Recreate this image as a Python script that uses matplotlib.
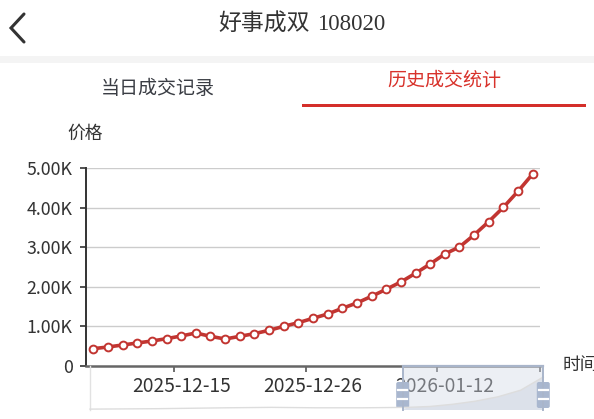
import matplotlib
matplotlib.use("Agg")
import matplotlib.pyplot as plt
from matplotlib.patches import Rectangle, FancyBboxPatch, Polygon

plt.rcParams['font.family'] = ['Noto Sans CJK SC', 'DejaVu Sans']

# chart data (trading days)
dates = ["2025-12-05", "2025-12-08", "2025-12-09", "2025-12-10", "2025-12-11",
         "2025-12-12", "2025-12-15", "2025-12-16", "2025-12-17", "2025-12-18",
         "2025-12-19", "2025-12-22", "2025-12-23", "2025-12-24", "2025-12-25",
         "2025-12-26", "2025-12-29", "2025-12-30", "2025-12-31", "2026-01-05",
         "2026-01-06", "2026-01-07", "2026-01-08", "2026-01-09", "2026-01-12",
         "2026-01-13", "2026-01-14", "2026-01-15", "2026-01-16", "2026-01-19",
         "2026-01-20"]
prices = [438, 481, 531, 582, 632, 691, 759, 835, 750, 683,
          750, 818, 902, 1003, 1096, 1206, 1315, 1459, 1594, 1763,
          1940, 2125, 2345, 2580, 2833, 3010, 3314, 3651, 4014, 4419,
          4857]
y_ticks = [0, 1000, 2000, 3000, 4000, 5000]
y_labels = ["0", "1.00K", "2.00K", "3.00K", "4.00K", "5.00K"]
shown_dates = ["2025-12-15", "2025-12-26", "2026-01-12"]
# faint data shadow in the zoom slider (fraction of slider height)
shadow_x = [0.0, 0.15, 0.3, 0.4, 0.5, 0.6, 0.7, 0.75, 0.8, 0.85, 0.9, 0.95, 1.0]
shadow_y = [0.02, 0.03, 0.05, 0.06, 0.05, 0.05, 0.06, 0.08, 0.13, 0.2, 0.3, 0.45, 0.75]

W, H = 594, 419
RED = '#c23531'
fig = plt.figure(figsize=(W / 100, H / 100), dpi=100)

# main plot area (pixel box: x 86..540, y 168..366)
ax = fig.add_axes([86 / W, (H - 366) / H, (540 - 86) / W, (366 - 168.3) / H])
ax.set_zorder(1)
xs = list(range(len(prices)))
ax.plot(xs, prices, color=RED, lw=2.6, marker='o', ms=5.6, mfc='white',
        mec=RED, mew=1.4, zorder=3, clip_on=False)
ax.set_xlim(-0.5, len(prices) - 0.5)
ax.set_ylim(0, 5000)
ax.set_yticks(y_ticks)
ax.set_yticklabels(y_labels)
for v in y_ticks[1:]:
    ax.axhline(v, color='#cccccc', lw=1, zorder=1)

idx = [dates.index(d) for d in shown_dates]
ax.set_xticks(idx)
ax.set_xticklabels(shown_dates)
ax.set_xticks([i - 0.5 for i in idx] + [len(prices) - 0.5], minor=True)
ax.tick_params(axis='x', which='major', length=0, pad=7.5, labelsize=13.8, labelcolor='#333333')
ax.tick_params(axis='x', which='minor', length=4, width=1.2, color='#555555')
ax.tick_params(axis='y', length=4.5, width=1.2, color='#333333', pad=5,
               labelsize=12.8, labelcolor='#333333')
for s in ['top', 'right']:
    ax.spines[s].set_visible(False)
ax.spines['left'].set_color('#333333')
ax.spines['left'].set_linewidth(1.4)
ax.spines['bottom'].set_color('#666666')
ax.spines['bottom'].set_linewidth(1.8)

# overlay in pixel coordinates for header, labels and slider
ov = fig.add_axes([0, 0, 1, 1])
ov.set_zorder(5)
ov.set_xlim(0, W)
ov.set_ylim(H, 0)
ov.axis('off')
ov.patch.set_alpha(0)

# header
ov.plot([24, 11, 24], [14, 28, 42], color='#333333', lw=2.2, solid_capstyle='round',
        solid_joinstyle='miter')
ov.text(310, 24, "好事成双", ha='right', va='center', fontsize=16.5, color='#333333')
ov.text(317, 24, "108020", ha='left', va='center', fontsize=16.5, color='#333333',
        family='Liberation Serif')
ov.add_patch(Rectangle((0, 56), W, 7, facecolor='#f4f4f4', edgecolor='none'))
ov.text(158, 89, "当日成交记录", ha='center', va='center', fontsize=13.7, color='#3a3d44')
ov.text(444, 80, "历史成交统计", ha='center', va='center', fontsize=13.7, color='#d8322b')
ov.add_patch(Rectangle((302, 103.5), 284, 3.5, facecolor='#d42f2a', edgecolor='none'))

# axis names
ov.text(85.5, 134, "价格", ha='center', va='center', fontsize=12.8, color='#333333')
ov.text(562.5, 365, "时间", ha='left', va='center', fontsize=12.8, color='#333333')

# slider
sx0, sx1, sy0, sy1 = 90, 543.3, 366, 410
ov.plot([sx0, sx0], [sy0, sy1], color='#e2e2e2', lw=1)
px = [sx0 + f * (sx1 - sx0) for f in shadow_x]
py = [sy1 - f * (sy1 - sy0) for f in shadow_y]
ov.plot(px, py, color='#dddddd', lw=1)
wx0 = 402.7
ov.add_patch(Rectangle((wx0, sy0), sx1 - wx0, sy1 - sy0, facecolor='#d2d9e6',
                       alpha=0.42, edgecolor='none'))
inside = [(x, y) for x, y in zip(px, py) if x >= wx0]
poly = [(wx0, sy1)] + inside + [(sx1, sy1)]
ov.add_patch(Polygon(poly, closed=True, facecolor='#c9d1df', alpha=0.45, edgecolor='none'))
ov.plot([wx0, sx1], [sy0, sy0], color='#a9b5ca', lw=1.6)
ov.plot([wx0, wx0], [sy0, sy1], color='#a9b5ca', lw=1.4)
ov.plot([sx1, sx1], [sy0, sy1], color='#a9b5ca', lw=1.4)
for hx in [wx0, sx1]:
    ov.add_patch(FancyBboxPatch((hx - 6.5, 382), 13, 26,
                                boxstyle='round,pad=0,rounding_size=2',
                                facecolor='#a9b7cf', edgecolor='none'))
    for hy in [390, 398.5]:
        ov.plot([hx - 4.5, hx + 4.5], [hy, hy], color='white', lw=1.6)

fig.savefig("out.png", dpi=100)
